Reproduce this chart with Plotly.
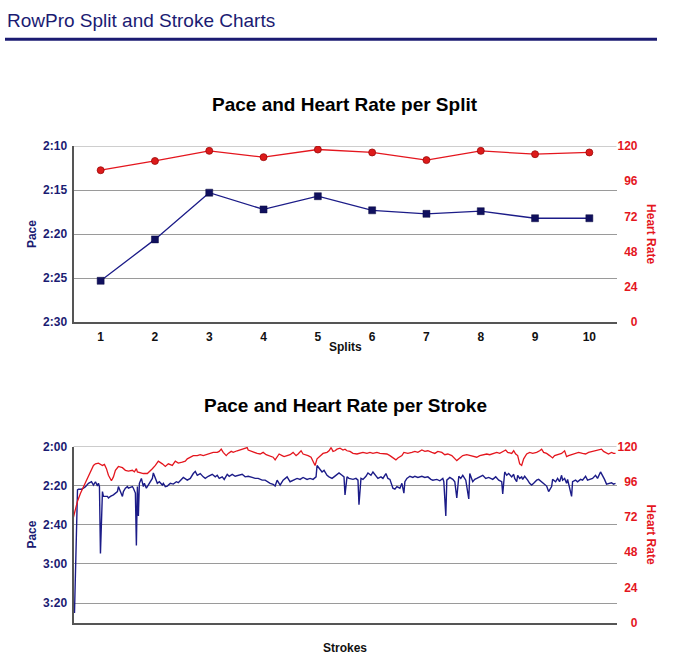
import plotly.graph_objects as go

# ---- per split data ----
splits = [1, 2, 3, 4, 5, 6, 7, 8, 9, 10]
split_pace = [145.3, 140.6, 135.3, 137.2, 135.7, 137.3, 137.7, 137.4, 138.2, 138.2]  # seconds / 500m
split_hr = [103.5, 109.8, 116.7, 112.4, 117.6, 115.6, 110.4, 116.7, 114.4, 115.6]

# ---- per stroke data ----
pace_strokes = [1, 4, 5, 8, 10, 12, 15, 18, 20, 22, 24, 25, 26, 27, 29, 30, 34, 35, 37, 40,
                44, 45, 47, 49, 50, 52, 54, 55, 59, 60, 62, 63, 64, 65, 66, 68, 70, 71, 73, 75,
                79, 80, 82, 84, 86, 89, 90, 92, 94, 97, 100, 103, 105, 108, 110, 114, 117, 120, 122, 124,
                127, 130, 132, 135, 139, 142, 144, 146, 149, 151, 154, 156, 159, 162, 165, 169, 172, 175, 179, 182,
                185, 189, 192, 194, 197, 200, 202, 204, 205, 207, 210, 212, 214, 217, 220, 224, 227, 230, 234, 237,
                240, 243, 244, 246, 249, 251, 254, 256, 259, 261, 264, 266, 269, 271, 272, 274, 276, 280, 283, 285,
                286, 288, 290, 293, 295, 298, 300, 303, 305, 308, 310, 313, 315, 317, 320, 322, 324, 327, 329, 331,
                332, 334, 337, 340, 342, 345, 349, 352, 355, 358, 360, 364, 367, 370, 371, 373, 374, 377, 380, 382,
                384, 386, 388, 390, 393, 396, 397, 400, 402, 404, 407, 410, 413, 416, 420, 423, 426, 429, 430, 432,
                434, 436, 439, 441, 442, 444, 445, 447, 449, 450, 452, 454, 455, 457, 459, 461, 464, 466, 469, 471,
                474, 476, 479, 480, 483, 485, 487, 489, 490, 492, 494, 495, 497, 499, 500, 503, 505, 508, 510, 513,
                515, 518, 520, 523, 525, 528, 530, 532, 534, 536, 539, 541, 543]
stroke_pace = [205.0, 142.2, 141.8, 141.8, 141.3, 140.5, 138.8, 138.0, 139.7, 138.0, 140.2, 138.8, 140.5, 174.7, 143.0, 145.5, 145.5, 146.3, 145.5, 144.7,
               143.0, 140.5, 143.0, 145.5, 143.0, 141.3, 140.5, 141.3, 140.5, 141.3, 143.8, 170.5, 140.5, 155.5, 138.8, 136.3, 140.5, 138.8, 141.3, 139.7,
               136.3, 133.5, 136.3, 138.8, 138.0, 139.7, 138.8, 140.5, 140.2, 138.8, 139.2, 138.0, 138.5, 136.8, 135.8, 137.2, 136.3, 133.8, 132.7, 134.7,
               133.8, 135.5, 136.3, 135.2, 134.2, 135.5, 134.7, 136.3, 135.5, 136.8, 134.2, 135.2, 134.2, 135.2, 134.7, 134.2, 135.5, 135.2, 135.8, 136.3,
               136.3, 137.2, 137.2, 138.0, 138.8, 139.3, 140.2, 137.2, 138.0, 139.7, 137.2, 136.3, 135.5, 138.0, 137.2, 136.3, 136.8, 135.8, 136.8, 136.3,
               136.8, 135.5, 129.7, 131.3, 133.0, 132.2, 134.7, 135.5, 136.3, 135.5, 134.2, 133.5, 134.7, 135.5, 144.7, 135.5, 136.3, 136.8, 136.3, 137.2,
               149.7, 136.3, 136.8, 135.2, 133.5, 134.7, 133.0, 135.2, 136.3, 135.5, 136.3, 133.8, 136.3, 136.8, 141.3, 141.8, 140.5, 141.3, 138.8, 143.8,
               138.0, 136.3, 135.2, 135.8, 135.2, 135.8, 135.2, 135.8, 135.5, 136.8, 137.2, 136.8, 137.5, 136.3, 138.0, 155.5, 137.2, 135.8, 136.8, 138.0,
               146.3, 135.2, 136.3, 134.7, 137.2, 146.8, 133.8, 138.0, 136.8, 136.3, 135.5, 134.7, 136.3, 135.8, 136.8, 135.5, 137.2, 138.0, 144.2, 133.0,
               134.7, 133.8, 135.5, 134.2, 136.3, 138.0, 134.7, 136.3, 135.5, 136.8, 135.2, 136.3, 137.2, 138.8, 139.7, 138.8, 137.2, 136.8, 138.0, 138.8,
               140.2, 143.0, 140.5, 136.8, 138.0, 136.3, 138.0, 134.7, 137.2, 136.3, 138.8, 136.8, 140.5, 145.5, 138.0, 137.2, 138.0, 136.8, 137.2, 135.2,
               137.2, 136.8, 136.3, 134.7, 136.3, 133.0, 134.7, 136.8, 139.2, 138.8, 138.5, 139.2, 138.8]

hr_strokes = [0, 2, 4, 7, 10, 14, 17, 20, 22, 25, 29, 31, 33, 35, 38, 40, 42, 45, 49, 52,
              55, 59, 61, 63, 64, 67, 70, 74, 76, 79, 82, 85, 89, 92, 95, 99, 102, 105, 109, 112,
              114, 117, 120, 124, 127, 130, 134, 137, 140, 144, 146, 148, 150, 153, 155, 158, 160, 164, 167, 170,
              174, 175, 178, 180, 184, 187, 190, 193, 196, 200, 202, 204, 206, 209, 211, 214, 217, 220, 223, 225,
              228, 230, 233, 235, 238, 240, 242, 244, 247, 250, 254, 256, 258, 260, 262, 264, 267, 270, 272, 274,
              277, 280, 284, 287, 290, 294, 297, 300, 304, 307, 310, 314, 317, 320, 323, 325, 329, 331, 335, 339,
              342, 345, 349, 352, 355, 359, 362, 365, 369, 372, 375, 379, 382, 384, 387, 390, 394, 397, 400, 404,
              407, 410, 414, 417, 420, 424, 427, 430, 433, 435, 439, 441, 443, 445, 447, 449, 451, 454, 457, 460,
              464, 467, 469, 471, 474, 477, 480, 482, 485, 489, 492, 494, 496, 500, 503, 506, 510, 513, 516, 520,
              523, 526, 529, 531, 534, 536, 539, 541, 543]
stroke_hr = [72.0, 78.0, 82.7, 88.2, 92.7, 98.2, 103.8, 107.1, 108.2, 108.7, 107.1, 107.8, 104.9, 100.4, 96.7, 99.3, 103.8, 106.4, 105.6, 103.8,
             103.3, 103.8, 102.7, 104.9, 102.7, 102.0, 101.6, 101.6, 102.7, 104.9, 107.1, 110.0, 108.2, 106.4, 108.2, 107.1, 110.0, 108.7, 109.3, 110.0,
             111.6, 112.7, 113.8, 113.8, 114.4, 113.8, 114.9, 115.3, 116.0, 116.0, 116.7, 118.2, 116.0, 113.8, 115.3, 116.7, 116.0, 117.1, 117.6, 118.2,
             119.3, 117.6, 116.7, 116.0, 115.3, 114.9, 116.0, 114.4, 113.8, 112.7, 110.9, 112.7, 114.9, 113.8, 113.1, 113.8, 114.4, 116.0, 113.8, 114.9,
             117.1, 114.9, 114.4, 113.8, 112.7, 109.3, 107.1, 111.6, 113.8, 115.3, 116.0, 117.1, 119.3, 116.7, 117.1, 118.2, 118.9, 117.6, 118.2, 117.1,
             116.7, 115.3, 114.9, 115.3, 116.0, 115.3, 116.0, 115.3, 116.0, 115.3, 115.3, 114.9, 113.8, 112.2, 110.9, 112.2, 113.8, 116.0, 115.3, 116.0,
             116.7, 116.0, 117.6, 116.7, 117.1, 116.0, 115.3, 116.7, 116.0, 114.4, 114.9, 113.8, 111.6, 110.4, 112.2, 113.8, 114.4, 113.8, 113.1, 112.7,
             113.8, 114.4, 114.9, 114.4, 115.3, 116.0, 115.3, 116.7, 117.6, 116.0, 115.3, 117.1, 114.9, 113.8, 108.2, 107.1, 111.6, 114.9, 116.0, 115.3,
             116.0, 117.1, 118.2, 116.0, 115.3, 113.8, 112.2, 113.8, 114.4, 115.3, 117.1, 113.1, 113.8, 114.9, 115.3, 116.0, 115.3, 114.9, 116.0, 116.7,
             117.1, 117.6, 118.2, 116.7, 115.3, 114.9, 116.0, 115.3, 115.3]

# axis labels
split_pace_ticks = [130, 135, 140, 145, 150]
split_pace_text = ["2:10", "2:15", "2:20", "2:25", "2:30"]
stroke_pace_ticks = [120, 140, 160, 180, 200]
stroke_pace_text = ["2:00", "2:20", "2:40", "3:00", "3:20"]
hr_ticks = [0, 24, 48, 72, 96, 120]
hr_text = ["\u2007\u20070", "\u200724", "\u200748", "\u200772", "\u200796", "120"]

NAVY = "#1b1b72"
BLUE = "#1c1c88"
RED = "#e4161e"
GRID = "#9a9a9a"
AXLINE = "#555555"
FAM = "Liberation Sans, Arial, sans-serif"

fig = go.Figure()

fig.add_trace(go.Scatter(
  x=splits, y=split_pace, xaxis="x", yaxis="y", mode="lines+markers",
  line=dict(color=BLUE, width=1.3),
  marker=dict(symbol="square", size=7, color="#10105e", line=dict(color="#0a0a40", width=0.5))
))
fig.add_trace(go.Scatter(
  x=splits, y=split_hr, xaxis="x", yaxis="y2", mode="lines+markers",
  line=dict(color=RED, width=1.3),
  marker=dict(symbol="circle", size=7, color="#dd1a1a", line=dict(color="#9a0a0a", width=0.8))
))
fig.add_trace(go.Scatter(
  x=pace_strokes, y=stroke_pace, xaxis="x2", yaxis="y3", mode="lines",
  line=dict(color=BLUE, width=1.4)
))
fig.add_trace(go.Scatter(
  x=hr_strokes, y=stroke_hr, xaxis="x2", yaxis="y4", mode="lines",
  line=dict(color=RED, width=1.3)
))

tick_font_l = dict(family=FAM, size=12, color=NAVY, weight="bold")
tick_font_r = dict(family=FAM, size=12, color=RED, weight="bold")
tick_font_x = dict(family=FAM, size=12, color="#111111", weight="bold")

xdom = [73.5 / 683, 616.5 / 683]
top_dom = [1 - 322 / 662, 1 - 142 / 662]
bot_dom = [1 - 629 / 662, 1 - 449 / 662]

fig.update_layout(
  width=683, height=662, autosize=False,
  margin=dict(l=0, r=0, t=0, b=0),
  paper_bgcolor="white", plot_bgcolor="white",
  showlegend=False,
  font=dict(family=FAM),
  xaxis=dict(domain=xdom, anchor="y", range=[0.5, 10.5], tickvals=splits,
             showgrid=False, zeroline=False, showline=True, linecolor=AXLINE, linewidth=2,
             ticks="", ticklabelstandoff=2, tickfont=tick_font_x),
  yaxis=dict(domain=top_dom, anchor="x", range=[150, 130], tickvals=split_pace_ticks, ticktext=split_pace_text,
             showgrid=True, gridcolor=GRID, gridwidth=1, zeroline=False,
             showline=True, linecolor=AXLINE, linewidth=2, ticks="", ticklabelstandoff=2, tickfont=tick_font_l),
  yaxis2=dict(overlaying="y", side="right", anchor="x", range=[0, 120], tickvals=hr_ticks, ticktext=hr_text,
              showgrid=False, zeroline=False, showline=False, ticks="", ticklabelstandoff=0, tickfont=tick_font_r),
  xaxis2=dict(domain=xdom, anchor="y3", range=[0, 544], showticklabels=False,
              showgrid=False, zeroline=False, showline=True, linecolor=AXLINE, linewidth=2, ticks=""),
  yaxis3=dict(domain=bot_dom, anchor="x2", range=[210, 120], tickvals=stroke_pace_ticks, ticktext=stroke_pace_text,
              showgrid=True, gridcolor=GRID, gridwidth=1, zeroline=False,
              showline=True, linecolor=AXLINE, linewidth=2, ticks="", ticklabelstandoff=2, tickfont=tick_font_l),
  yaxis4=dict(overlaying="y3", side="right", anchor="x2", range=[0, 120], tickvals=hr_ticks, ticktext=hr_text,
              showgrid=False, zeroline=False, showline=False, ticks="", ticklabelstandoff=0, tickfont=tick_font_r),
)

title_font = dict(family=FAM, size=19, color="#000000", weight="bold")
lab_font_l = dict(family=FAM, size=12, color=NAVY, weight="bold")
lab_font_r = dict(family=FAM, size=12, color=RED, weight="bold")
lab_font_x = dict(family=FAM, size=12, color="#111111", weight="bold")

annos = [
  dict(text="RowPro Split and Stroke Charts", x=5 / 683, y=1 - 14 / 662, xref="paper", yref="paper",
       xanchor="left", yanchor="middle", showarrow=False,
       font=dict(family=FAM, size=19, color=NAVY)),
  dict(text="Pace and Heart Rate per Split", x=0.5, y=1 - 100 / 662, xref="x domain", yref="paper",
       xanchor="center", yanchor="middle", showarrow=False, font=title_font),
  dict(text="Pace and Heart Rate per Stroke", x=0.5, y=1 - 407 / 662, xref="x2 domain", yref="paper",
       xanchor="center", yanchor="middle", showarrow=False, font=title_font),
  dict(text="Pace", x=32 / 683, y=0.5, xref="paper", yref="y domain", textangle=-90,
       xanchor="center", yanchor="middle", showarrow=False, font=lab_font_l),
  dict(text="Pace", x=32 / 683, y=0.5, xref="paper", yref="y3 domain", textangle=-90,
       xanchor="center", yanchor="middle", showarrow=False, font=lab_font_l),
  dict(text="Heart Rate", x=651 / 683, y=0.5, xref="paper", yref="y domain", textangle=90,
       xanchor="center", yanchor="middle", showarrow=False, font=lab_font_r),
  dict(text="Heart Rate", x=651 / 683, y=0.5, xref="paper", yref="y3 domain", textangle=90,
       xanchor="center", yanchor="middle", showarrow=False, font=lab_font_r),
  dict(text="Splits", x=0.5, y=1 - 347 / 662, xref="x domain", yref="paper",
       xanchor="center", yanchor="middle", showarrow=False, font=lab_font_x),
  dict(text="Strokes", x=0.5, y=1 - 655 / 662, xref="x2 domain", yref="paper",
       xanchor="center", yanchor="middle", showarrow=False, font=lab_font_x),
]
fig.update_layout(annotations=annos)

# header rule
fig.add_shape(type="line", xref="paper", yref="paper", x0=5 / 683, x1=657 / 683,
              y0=1 - 33 / 662, y1=1 - 33 / 662, line=dict(color=NAVY, width=3))
# top gridlines that plotly leaves out at the range edge
fig.add_shape(type="line", xref="x domain", yref="y", x0=0, x1=1, y0=split_pace_ticks[0], y1=split_pace_ticks[0],
              line=dict(color=GRID, width=1), layer="below")
fig.add_shape(type="line", xref="x2 domain", yref="y3", x0=0, x1=1, y0=stroke_pace_ticks[0], y1=stroke_pace_ticks[0],
              line=dict(color=GRID, width=1), layer="below")

fig.write_html("out.html", config={"displayModeBar": False},
               post_script="document.body.style.margin='0';document.body.style.overflow='hidden';")
